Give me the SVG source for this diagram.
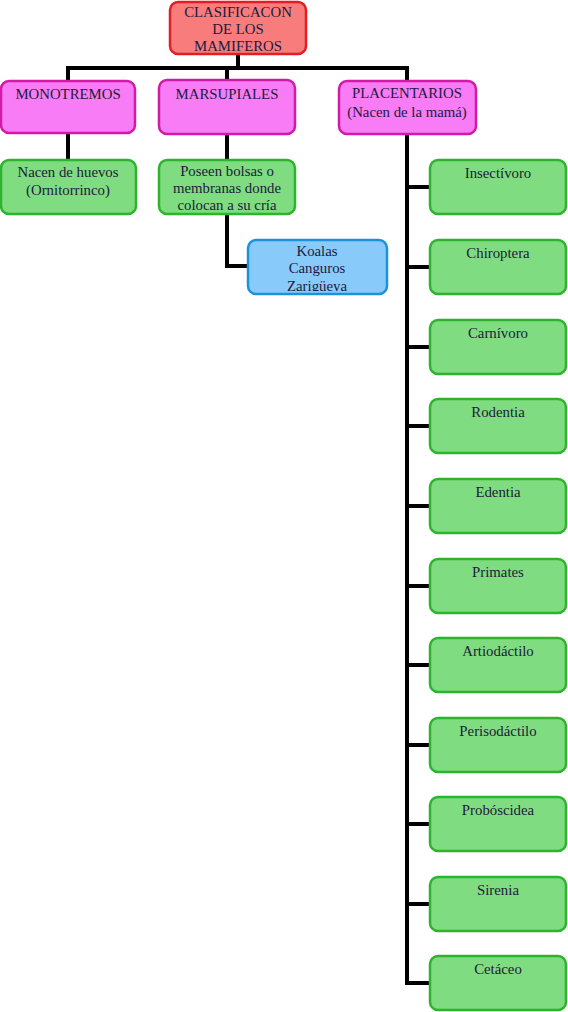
<svg xmlns="http://www.w3.org/2000/svg" width="568" height="1012" viewBox="0 0 568 1012">
<style>
.n rect{stroke-width:2.5}
.red rect{fill:#f87c7c;stroke:#e41c24}
.pink rect{fill:#f77cf5;stroke:#d21aa8}
.green rect{fill:#80dc80;stroke:#2cb52c}
.blue rect{fill:#88cbfb;stroke:#1c92dc}
text{font-family:"Liberation Serif","Times New Roman",serif;font-size:14.8px;fill:#1e1a3c;text-anchor:middle}
.c{stroke:#000;stroke-width:4;fill:none}
</style>
<defs>
<clipPath id="clipTop"><rect x="170" y="2" width="136" height="50"/></clipPath>
<clipPath id="clipKoala"><rect x="248" y="240" width="139" height="51"/></clipPath>
</defs>
<g id="connectors">
<path class="c" d="M238 54V68M68 68H407M68 66V81M227 66V80M407 66V81"/>
<path class="c" d="M68 134V160M227 134V160M227 214V266H248"/>
<path class="c" d="M407 134V983M405 187H430M405 267H430M405 347H430M405 426H430M405 506H430M405 586H430M405 665H430M405 745H430M405 824H430M405 904H430M405 983H430"/>
</g>
<g id="root" class="n red"><rect x="170" y="2" width="136" height="52" rx="8"/><g clip-path="url(#clipTop)"><text x="238" y="17">CLASIFICACON</text><text x="238" y="34">DE LOS</text><text x="238" y="51">MAMIFEROS</text></g></g>
<g id="monotremos" class="n pink"><rect x="1" y="81" width="134" height="52" rx="8"/><text x="68" y="99">MONOTREMOS</text></g>
<g id="marsupiales" class="n pink"><rect x="159" y="80" width="136" height="54" rx="8"/><text x="227" y="99">MARSUPIALES</text></g>
<g id="placentarios" class="n pink"><rect x="339" y="81" width="137" height="53" rx="8"/><text x="407" y="98">PLACENTARIOS</text><text x="407" y="117">(Nacen de la mamá)</text></g>
<g id="huevos" class="n green"><rect x="1" y="160" width="135" height="54" rx="8"/><text x="68" y="177">Nacen de huevos</text><text x="68" y="195">(Ornitorrinco)</text></g>
<g id="bolsas" class="n green"><rect x="159" y="160" width="136" height="54" rx="8"/><text x="227" y="176">Poseen bolsas o</text><text x="227" y="193">membranas donde</text><text x="227" y="210">colocan a su cría</text></g>
<g id="koalas" class="n blue"><rect x="248" y="240" width="139" height="54" rx="8"/><g clip-path="url(#clipKoala)"><text x="317" y="256">Koalas</text><text x="317" y="273">Canguros</text><text x="317" y="291">Zarigüeya</text></g></g>
<g id="insectivoro" class="n green"><rect x="430" y="160" width="136" height="54" rx="8"/><text x="498" y="178">Insectívoro</text></g>
<g id="chiroptera" class="n green"><rect x="430" y="240" width="136" height="54" rx="8"/><text x="498" y="258">Chiroptera</text></g>
<g id="carnivoro" class="n green"><rect x="430" y="320" width="136" height="54" rx="8"/><text x="498" y="338">Carnívoro</text></g>
<g id="rodentia" class="n green"><rect x="430" y="399" width="136" height="54" rx="8"/><text x="498" y="417">Rodentia</text></g>
<g id="edentia" class="n green"><rect x="430" y="479" width="136" height="54" rx="8"/><text x="498" y="497">Edentia</text></g>
<g id="primates" class="n green"><rect x="430" y="559" width="136" height="54" rx="8"/><text x="498" y="577">Primates</text></g>
<g id="artiodactilo" class="n green"><rect x="430" y="638" width="136" height="54" rx="8"/><text x="498" y="656">Artiodáctilo</text></g>
<g id="perisodactilo" class="n green"><rect x="430" y="718" width="136" height="54" rx="8"/><text x="498" y="736">Perisodáctilo</text></g>
<g id="proboscidea" class="n green"><rect x="430" y="797" width="136" height="54" rx="8"/><text x="498" y="815">Probóscidea</text></g>
<g id="sirenia" class="n green"><rect x="430" y="877" width="136" height="54" rx="8"/><text x="498" y="895">Sirenia</text></g>
<g id="cetaceo" class="n green"><rect x="430" y="956" width="136" height="54" rx="8"/><text x="498" y="974">Cetáceo</text></g>
</svg>
